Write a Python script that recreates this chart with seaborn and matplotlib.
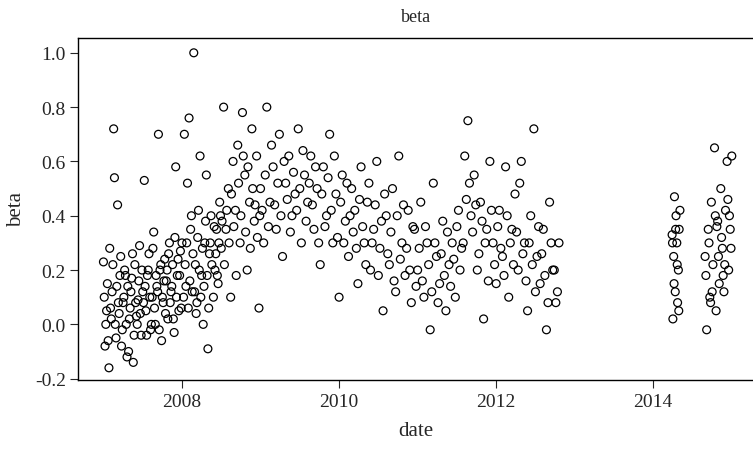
import matplotlib
matplotlib.use("Agg")
import matplotlib.pyplot as plt
import seaborn as sns
import pandas as pd

date = [
2007.00,2007.02,2007.04,2007.05,2007.07,2007.08,2007.10,2007.11,2007.13,2007.14,2007.16,2007.18,2007.19,2007.21,2007.22,2007.24,2007.26,2007.27,2007.29,2007.31,2007.32,2007.34,2007.36,2007.38,2007.40,2007.42,2007.44,2007.46,2007.48,2007.50,
2007.52,2007.54,2007.56,2007.58,2007.60,2007.62,2007.64,2007.66,2007.68,2007.70,2007.72,2007.74,2007.76,2007.78,2007.80,2007.82,2007.84,2007.86,2007.88,2007.90,2007.92,2007.94,2007.96,2007.98,
2008.00,2008.03,2008.05,2008.07,2008.09,2008.11,2008.13,2008.15,2008.17,2008.19,2008.21,2008.23,2008.25,2008.27,2008.29,2008.31,2008.33,2008.35,2008.37,2008.40,2008.42,2008.44,2008.46,2008.48,
2008.50,2008.53,2008.56,2008.59,2008.62,2008.65,2008.68,2008.71,2008.74,2008.77,2008.80,2008.83,2008.86,2008.89,2008.92,2008.95,2008.98,
2009.00,2009.04,2009.08,2009.12,2009.16,2009.20,2009.24,2009.28,2009.32,2009.36,2009.40,2009.44,2009.48,2009.52,2009.56,2009.60,2009.64,2009.68,2009.72,2009.76,2009.80,2009.84,2009.88,2009.92,2009.96,
2010.00,2010.04,2010.08,2010.12,2010.16,2010.20,2010.24,2010.28,2010.32,2010.36,2010.40,2010.44,2010.48,2010.52,2010.56,2010.60,2010.64,2010.68,2010.72,2010.76,2010.80,2010.84,2010.88,2010.92,2010.96,
2011.00,2011.04,2011.08,2011.12,2011.16,2011.20,2011.24,2011.28,2011.32,2011.36,2011.40,2011.44,2011.48,2011.52,2011.56,2011.60,2011.64,2011.68,2011.72,2011.76,2011.80,2011.84,2011.88,2011.92,2011.96,
2012.00,2012.04,2012.08,2012.12,2012.16,2012.20,2012.24,2012.28,2012.32,2012.36,2012.40,2012.44,2012.48,2012.52,2012.56,2012.60,2012.64,2012.68,2012.72,2012.76,2012.80,
2014.24,2014.25,2014.26,2014.27,2014.28,2014.29,2014.30,2014.31,2014.32,2014.33,2014.34,
2014.66,2014.68,2014.70,2014.72,2014.74,2014.76,2014.78,2014.80,2014.82,2014.84,2014.86,2014.88,2014.90,2014.92,2014.94,2014.96,2014.98,2015.00,
]
beta = [
0.23,-0.08,0.05,0.15,-0.16,0.28,0.02,0.12,0.72,0.54,-0.05,0.44,0.08,0.18,0.25,-0.02,0.10,0.20,0.00,0.14,-0.10,0.06,0.17,-0.14,0.22,0.03,0.09,0.29,-0.04,0.12,
0.53,0.05,0.18,0.26,-0.02,0.10,0.34,0.00,0.14,0.70,0.20,-0.06,0.08,0.24,0.16,0.02,0.30,0.12,0.22,-0.03,0.58,0.18,0.05,0.27,
0.30,0.70,0.14,0.52,0.76,0.35,0.12,1.00,0.22,0.08,0.42,0.62,0.18,0.00,0.30,0.55,-0.09,0.26,0.40,0.10,0.20,0.35,0.15,0.45,
0.28,0.80,0.35,0.50,0.10,0.60,0.42,0.66,0.30,0.78,0.55,0.20,0.45,0.72,0.38,0.62,0.06,
0.50,0.30,0.80,0.45,0.58,0.35,0.70,0.25,0.52,0.62,0.40,0.48,0.72,0.30,0.55,0.45,0.62,0.35,0.50,0.22,0.58,0.40,0.70,0.30,0.48,
0.10,0.55,0.38,0.25,0.50,0.42,0.15,0.58,0.30,0.45,0.20,0.35,0.60,0.28,0.05,0.40,0.22,0.50,0.12,0.62,0.30,0.18,0.42,0.08,0.35,
0.20,0.45,0.10,0.30,-0.02,0.52,0.25,0.15,0.38,0.05,0.22,0.30,0.10,0.42,0.28,0.62,0.75,0.40,0.55,0.20,0.45,0.02,0.35,0.60,0.30,
0.15,0.42,0.25,0.58,0.10,0.35,0.48,0.20,0.60,0.30,0.05,0.40,0.72,0.25,0.15,0.35,-0.02,0.45,0.20,0.08,0.30,
0.33,0.02,0.25,0.47,0.12,0.40,0.30,0.08,0.20,0.35,0.42,
0.25,-0.02,0.35,0.10,0.45,0.22,0.65,0.05,0.38,0.15,0.50,0.28,0.12,0.42,0.60,0.20,0.35,0.62,
]

date2 = [
2007.01,2007.03,2007.06,2007.09,2007.12,2007.15,2007.17,2007.20,2007.23,2007.25,2007.28,2007.30,2007.33,2007.35,2007.37,2007.39,2007.41,2007.43,2007.45,2007.47,2007.49,
2007.51,2007.53,2007.55,2007.57,2007.59,2007.61,2007.63,2007.65,2007.67,2007.69,2007.71,2007.73,2007.75,2007.77,2007.79,2007.81,2007.83,2007.85,2007.87,2007.89,2007.91,2007.93,2007.95,2007.97,2007.99,
2008.02,2008.04,2008.06,2008.08,2008.10,2008.12,2008.14,2008.16,2008.18,2008.20,2008.22,2008.24,2008.26,2008.28,2008.30,2008.32,2008.34,2008.36,2008.38,2008.41,2008.43,2008.45,2008.47,2008.49,
2008.51,2008.54,2008.57,2008.60,2008.63,2008.66,2008.69,2008.72,2008.75,2008.78,2008.81,2008.84,2008.87,2008.90,2008.93,2008.96,2008.99,
2009.02,2009.06,2009.10,2009.14,2009.18,2009.22,2009.26,2009.30,2009.34,2009.38,2009.42,2009.46,2009.50,2009.54,2009.58,2009.62,2009.66,2009.70,2009.74,2009.78,2009.82,2009.86,2009.90,2009.94,2009.98,
2010.02,2010.06,2010.10,2010.14,2010.18,2010.22,2010.26,2010.30,2010.34,2010.38,2010.42,2010.46,2010.50,2010.54,2010.58,2010.62,2010.66,2010.70,2010.74,2010.78,2010.82,2010.86,2010.90,2010.94,2010.98,
2011.02,2011.06,2011.10,2011.14,2011.18,2011.22,2011.26,2011.30,2011.34,2011.38,2011.42,2011.46,2011.50,2011.54,2011.58,2011.62,2011.66,2011.70,2011.74,2011.78,2011.82,2011.86,2011.90,2011.94,2011.98,
2012.02,2012.06,2012.10,2012.14,2012.18,2012.22,2012.26,2012.30,2012.34,2012.38,2012.42,2012.46,2012.50,2012.54,2012.58,2012.62,2012.66,2012.70,2012.74,2012.78,
2014.245,2014.265,2014.285,2014.305,2014.325,
2014.67,2014.71,2014.75,2014.79,2014.83,2014.87,2014.91,2014.95,2014.99,2014.73,2014.81,2014.89,2014.97,
]
beta2 = [
0.10,0.00,-0.06,0.06,0.22,0.00,0.14,0.04,-0.08,0.08,0.18,-0.12,0.02,0.12,0.26,-0.04,0.08,0.00,0.16,0.04,0.20,
0.08,0.14,-0.04,0.20,0.10,0.00,0.28,0.06,0.18,0.12,-0.02,0.22,0.10,0.16,0.04,0.20,0.26,0.08,0.14,0.02,0.32,0.10,0.24,0.18,0.06,
0.10,0.22,0.30,0.06,0.16,0.40,0.26,0.12,0.04,0.32,0.20,0.10,0.28,0.14,0.38,0.18,0.06,0.30,0.22,0.36,0.26,0.18,0.30,0.40,
0.38,0.22,0.42,0.30,0.48,0.36,0.18,0.52,0.40,0.62,0.34,0.58,0.28,0.50,0.44,0.32,0.40,
0.42,0.55,0.36,0.66,0.44,0.52,0.40,0.60,0.46,0.34,0.56,0.42,0.50,0.64,0.38,0.52,0.44,0.58,0.30,0.48,0.36,0.54,0.42,0.62,0.32,
0.45,0.30,0.52,0.40,0.34,0.28,0.46,0.36,0.22,0.52,0.30,0.44,0.18,0.38,0.48,0.26,0.34,0.16,0.40,0.24,0.44,0.28,0.20,0.36,0.14,
0.28,0.16,0.36,0.22,0.12,0.30,0.08,0.26,0.18,0.34,0.14,0.24,0.36,0.20,0.30,0.46,0.52,0.34,0.44,0.26,0.38,0.30,0.16,0.42,0.22,
0.36,0.28,0.18,0.40,0.30,0.22,0.34,0.52,0.26,0.16,0.30,0.22,0.12,0.36,0.26,0.18,0.08,0.30,0.20,0.12,
0.30,0.15,0.35,0.22,0.05,
0.18,0.30,0.12,0.40,0.25,0.32,0.22,0.46,0.28,0.08,0.36,0.18,0.40,
]

df = pd.DataFrame({"date": date + date2, "beta": beta + beta2})
sns.set_style("white")
plt.rcParams["font.family"] = ["Liberation Serif", "DejaVu Serif"]
fig, ax = plt.subplots(figsize=(7.53, 4.52), dpi=100)
fig.subplots_adjust(left=0.104, right=1.0, top=0.914, bottom=0.157)
sns.scatterplot(data=df, x="date", y="beta", ax=ax, facecolor="none",
                edgecolor="black", linewidth=0.9, s=32, marker="o")
ax.set_xlim(2006.68, 2015.27)
ax.set_ylim(-0.205, 1.055)
ax.set_xticks([2008, 2010, 2012, 2014])
ax.set_yticks([-0.2, 0.0, 0.2, 0.4, 0.6, 0.8, 1.0])
ax.set_yticklabels(["-0.2", "0.0", "0.2", "0.4", "0.6", "0.8", "1.0"])
ax.tick_params(labelsize=14, length=6, direction="out", left=True, bottom=True, pad=3)
for s in ax.spines.values():
    s.set_color("black"); s.set_linewidth(1.0)
ax.spines["right"].set_visible(False)
ax.set_xlabel("date", fontsize=15, labelpad=8)
ax.set_ylabel("beta", fontsize=15, labelpad=6)
ax.set_title("beta", fontsize=13, pad=12)
fig.savefig("out.png", dpi=100)
